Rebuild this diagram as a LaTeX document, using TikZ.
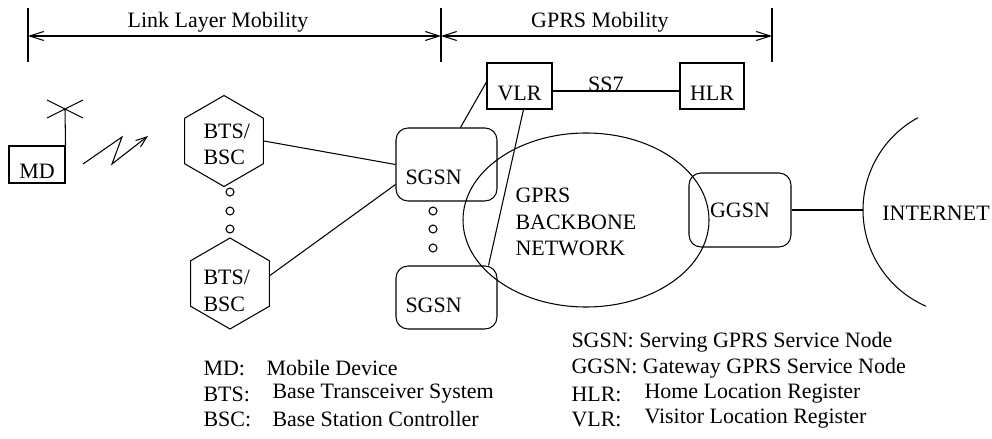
\documentclass[tikz,border=0pt]{standalone}
\usepackage{fontspec}
\setmainfont{Liberation Serif}
\usepackage{tikz}
\usetikzlibrary{shapes.geometric,arrows.meta,calc}

\begin{document}
\begin{tikzpicture}[x=0.02cm,y=-0.02cm,line width=0.6pt,
  font=\fontsize{12.5}{15}\selectfont,
  box/.style={draw,inner sep=0pt,text height=16pt,text depth=0pt},
  rbox/.style={draw,rounded corners=0.24cm,inner sep=0pt},
  hexa/.style={draw,regular polygon,regular polygon sides=6,shape border rotate=30,minimum size=1.82cm,inner sep=0pt},
  ring/.style={draw,circle,minimum size=0.16cm,inner sep=0pt},
  dim/.style={{Straight Barb[length=0.28cm,width=0.18cm]}-{Straight Barb[length=0.28cm,width=0.18cm]}},
  txt/.style={anchor=west,inner sep=0pt,align=left}]
\useasboundingbox (0,0) rectangle (992,439);

% mobility ranges
\coordinate (linkL) at (28,36);
\coordinate (linkR) at (441,36);
\coordinate (gprsR) at (772,36);
\foreach \c in {linkL,linkR,gprsR}
  \draw ($(\c)+(0,-28)$) -- ($(\c)+(0,26)$);
\draw[dim] (linkL) -- node[pos=0.46,above=1.8pt,inner sep=0pt] (linkLbl) {Link Layer Mobility} (linkR);
\draw[dim] (linkR) -- node[pos=0.48,above=1.8pt,inner sep=0pt] (gprsLbl) {GPRS Mobility} (gprsR);

% mobile device
\node[box,minimum width=1.12cm,minimum height=0.74cm] (md) at (37,164.5) {MD};
\coordinate (ant) at (65,109);
\draw (md.north east) -- (ant);
\draw ($(ant)+(-18,-9)$) -- ($(ant)+(18,9)$) ($(ant)+(-18,9)$) -- ($(ant)+(18,-9)$);
\draw[-{Straight Barb[length=0.22cm,width=0.16cm]}] (83,164) -- (122,137) -- (112,164) -- (148,136);

% base stations
\node[hexa] (btsA) at (224,141) {};
\node[hexa] (btsB) at (230,283.5) {};
\node[txt] (btsAlbl) at (203,144.5) {BTS/\\BSC};
\node[txt] (btsBlbl) at (203,291) {BTS/\\BSC};
\foreach \y in {192,211,229}
  \node[ring] (bdot\y) at (230,\y) {};

% SGSN
\node[rbox,minimum width=2.02cm,minimum height=1.46cm] (sgsnA) at (446.5,164.5) {};
\node[rbox,minimum width=2.02cm,minimum height=1.26cm] (sgsnB) at (446.5,297.5) {};
\node[txt] (sgsnAlbl) at (405,177) {SGSN};
\node[txt] (sgsnBlbl) at (405,305) {SGSN};
\foreach \y in {211,229,248}
  \node[ring] (sdot\y) at (433,\y) {};

% VLR / HLR
\node[box,minimum width=1.3cm,minimum height=0.92cm] (vlr) at (519.5,86) {VLR};
\node[box,minimum width=1.28cm,minimum height=0.92cm] (hlr) at (712,86) {HLR};
\draw ($(vlr.east)+(0,5)$) -- node[pos=0.42,above,inner sep=0pt,yshift=-0.5pt] (ss7) {SS7} ($(hlr.west)+(0,5)$);

% backbone
\draw (586,220) ellipse [x radius=123,y radius=87];
\node[txt] (backbone) at (515,222) {GPRS\\BACKBONE\\NETWORK};

% GGSN and internet
\node[rbox,minimum width=2.04cm,minimum height=1.48cm] (ggsn) at (740,210) {GGSN};
\coordinate (inet) at (863,210);
\draw (inet) arc (180:241.5:105);
\draw (inet) arc (180:113.5:105);
\node (inetLbl) at (936,213) {INTERNET};

% links
\draw (btsA.east) -- (sgsnA.west);
\draw ($(btsB.east)+(0,-8)$) -- ($(sgsnA.west)+(0,20)$);
\draw ($(sgsnA.north)+(14,0)$) -- ($(vlr.west)+(0,-4)$);
\draw ($(vlr.south)+(4,0)$) -- ($(sgsnB.north east)+(-9,0)$);
\draw (ggsn.east) -- (inet);

% legend
\foreach \k/\x/\y/\d in {MD/266/368/Mobile Device,BTS/272/394/Base Transceiver System,BSC/272/419/Base Station Controller}{
  \node[txt] (key\k) at (203,\y) {\k:};
  \node[txt] (desc\k) at (\x,\y) {\d};
}
\node[txt] (keySGSN) at (571,342) {SGSN: Serving GPRS Service Node};
\node[txt] (keyGGSN) at (571,368) {GGSN: Gateway GPRS Service Node};
\foreach \k/\y/\d in {HLR/394/Home Location Register,VLR/419/Visitor Location Register}{
  \node[txt] (key\k) at (571,\y) {\k:};
  \node[txt] (desc\k) at (644,\y) {\d};
}
\end{tikzpicture}
\end{document}
